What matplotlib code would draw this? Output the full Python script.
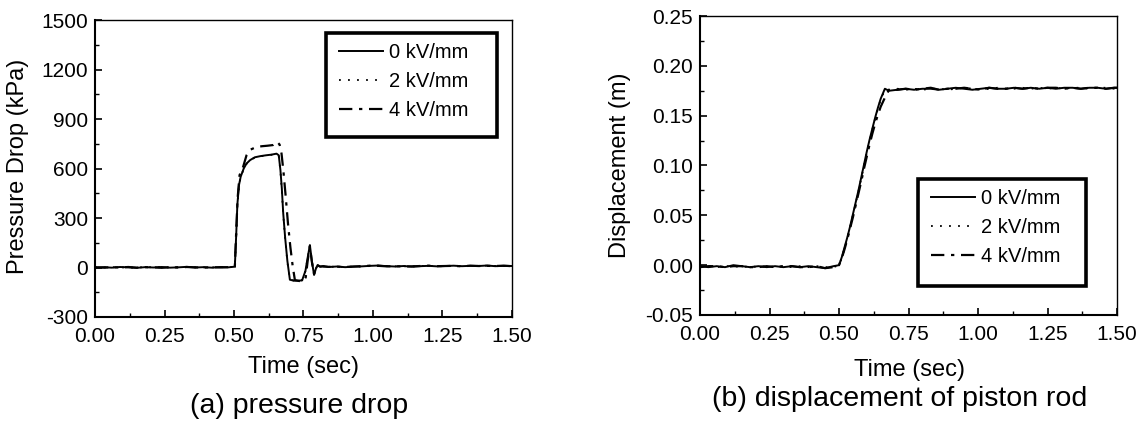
"""
Pressure drop and piston-rod displacement for 0, 2 and 4 kV/mm.
"""

import matplotlib

matplotlib.use("Agg")
import matplotlib.pyplot as plt
from matplotlib.patches import Rectangle
from matplotlib.ticker import MultipleLocator

plt.rcParams["font.family"] = ["Liberation Sans", "DejaVu Sans"]
plt.rcParams["axes.unicode_minus"] = False

# ---- data ----
labels = ["0 kV/mm", "2 kV/mm", "4 kV/mm"]

# (a) pressure drop, kPa
t_p0 = [0.00, 0.03, 0.06, 0.09, 0.12, 0.15, 0.18, 0.21, 0.24, 0.27, 0.30, 0.33, 0.36, 0.39, 0.42, 0.45, 0.48,
        0.503, 0.508, 0.512, 0.518, 0.524, 0.535, 0.545, 0.558, 0.575, 0.595, 0.615, 0.635, 0.653,
        0.661, 0.667, 0.672, 0.677, 0.684, 0.692, 0.701,
        0.715, 0.730, 0.745, 0.757, 0.765, 0.773, 0.780, 0.788, 0.795, 0.801, 0.810, 0.82, 0.84,
        0.87, 0.90, 0.93, 0.96, 0.99, 1.02, 1.05, 1.08, 1.11, 1.14, 1.17, 1.20, 1.23, 1.26, 1.29, 1.32,
        1.35, 1.38, 1.41, 1.44, 1.47, 1.50]
p_0kv = [0, 2, -1, 3, 1, -2, 2, 0, 3, -1, 1, 4, 0, 2, -1, 3, 1,
         5, 200, 380, 500, 550, 600, 630, 651, 668, 675, 680, 684, 690,
         680, 590, 480, 330, 180, 40, -74,
         -80, -80, -78, -20, 60, 136, 40, -45, -5, 15, 5, 8, 3,
         6, 2, 5, 7, 10, 12, 8, 6, 9, 5, 8, 10, 7, 9, 11, 8, 10, 9, 12, 8, 10, 9]
p_2kv = [1, 0, 2, 1, 0, -1, 3, 1, 2, 0, 2, 3, 1, 1, 0, 2, 2,
         4, 190, 370, 495, 548, 598, 628, 650, 666, 674, 679, 683, 688,
         676, 585, 470, 325, 175, 35, -72,
         -79, -81, -77, -22, 58, 132, 38, -43, -6, 14, 6, 7, 4,
         5, 3, 6, 6, 9, 11, 9, 7, 8, 6, 9, 9, 8, 8, 10, 9, 9, 10, 11, 9, 9, 10]

t_p4 = [0.00, 0.03, 0.06, 0.09, 0.12, 0.15, 0.18, 0.21, 0.24, 0.27, 0.30, 0.33, 0.36, 0.39, 0.42, 0.45, 0.48,
        0.503, 0.508, 0.513, 0.520, 0.533, 0.545, 0.560, 0.580, 0.600, 0.620, 0.640, 0.655,
        0.664, 0.671, 0.678, 0.686, 0.694, 0.703, 0.711, 0.719,
        0.735, 0.750, 0.758, 0.765, 0.773, 0.780, 0.788, 0.795, 0.801, 0.810, 0.82, 0.84,
        0.87, 0.90, 0.93, 0.96, 0.99, 1.02, 1.05, 1.08, 1.11, 1.14, 1.17, 1.20, 1.23, 1.26, 1.29, 1.32,
        1.35, 1.38, 1.41, 1.44, 1.47, 1.50]
p_4kv = [1, -1, 2, 0, 3, -1, 2, 1, -2, 2, 0, 3, 1, -1, 2, 0, 2,
         5, 220, 420, 560, 611, 680, 715, 730, 735, 738, 742, 762,
         745, 690, 580, 430, 270, 120, 10, -76,
         -82, -80, -60, 40, 130, 35, -40, -8, 12, 6, 7, 4,
         5, 3, 6, 8, 11, 10, 7, 8, 6, 7, 9, 11, 8, 9, 10, 7, 11, 9, 10, 9, 11, 8]

# (b) displacement of piston rod, m
t_d0 = [0.00, 0.03, 0.06, 0.09, 0.12, 0.15, 0.18, 0.21, 0.24, 0.27, 0.30, 0.33, 0.36, 0.39, 0.42, 0.45, 0.48, 0.50,
        0.51, 0.52, 0.53, 0.54, 0.55, 0.56, 0.57, 0.58, 0.59, 0.60, 0.61, 0.62, 0.63, 0.64, 0.65, 0.665,
        0.68, 0.71, 0.74, 0.77, 0.80, 0.83, 0.86, 0.89, 0.92, 0.95, 0.98, 1.01, 1.04, 1.07, 1.10, 1.13,
        1.16, 1.19, 1.22, 1.25, 1.28, 1.31, 1.34, 1.37, 1.40, 1.43, 1.46, 1.49, 1.50]
d_0kv = [-0.001, -0.002, -0.001, -0.002, 0.000, -0.001, -0.002, -0.001, -0.002, -0.001, -0.002, -0.001,
         -0.002, -0.001, -0.002, -0.003, -0.001, 0.000,
         0.008, 0.018, 0.028, 0.039, 0.051, 0.063, 0.075, 0.088, 0.101, 0.114, 0.126, 0.137, 0.148, 0.158,
         0.167, 0.177,
         0.175, 0.176, 0.177, 0.176, 0.177, 0.177, 0.176, 0.177, 0.178, 0.177, 0.176, 0.177, 0.178, 0.177,
         0.177, 0.178, 0.177, 0.178, 0.177, 0.178, 0.177, 0.178, 0.178, 0.177, 0.178, 0.178, 0.177, 0.178,
         0.178]
d_2kv = [-0.002, -0.001, -0.002, -0.001, -0.001, -0.002, -0.001, -0.002, -0.001, -0.002, -0.001, -0.002,
         -0.001, -0.002, -0.001, -0.002, -0.002, 0.000,
         0.007, 0.017, 0.027, 0.038, 0.050, 0.062, 0.074, 0.087, 0.100, 0.113, 0.125, 0.136, 0.147, 0.157,
         0.166, 0.176,
         0.176, 0.177, 0.176, 0.177, 0.176, 0.177, 0.177, 0.176, 0.177, 0.178, 0.177, 0.176, 0.177, 0.178,
         0.177, 0.177, 0.178, 0.177, 0.178, 0.177, 0.178, 0.177, 0.178, 0.178, 0.177, 0.178, 0.178, 0.177,
         0.178]

t_d4 = [0.00, 0.03, 0.06, 0.09, 0.12, 0.15, 0.18, 0.21, 0.24, 0.27, 0.30, 0.33, 0.36, 0.39, 0.42, 0.45, 0.48, 0.50,
        0.51, 0.52, 0.53, 0.54, 0.55, 0.56, 0.57, 0.58, 0.59, 0.60, 0.61, 0.62, 0.63, 0.64, 0.65, 0.665, 0.68,
        0.71, 0.74, 0.77, 0.80, 0.83, 0.86, 0.89, 0.92, 0.95, 0.98, 1.01, 1.04, 1.07, 1.10, 1.13,
        1.16, 1.19, 1.22, 1.25, 1.28, 1.31, 1.34, 1.37, 1.40, 1.43, 1.46, 1.49, 1.50]
d_4kv = [-0.002, -0.001, -0.001, -0.002, -0.001, -0.001, -0.002, -0.002, -0.001, -0.002, -0.001, -0.001,
         -0.002, -0.002, -0.001, -0.003, -0.002, 0.000,
         0.007, 0.016, 0.026, 0.037, 0.048, 0.060, 0.072, 0.084, 0.097, 0.109, 0.121, 0.132, 0.142, 0.151,
         0.159, 0.168, 0.176,
         0.176, 0.177, 0.176, 0.177, 0.178, 0.176, 0.177, 0.177, 0.178, 0.177, 0.176, 0.178, 0.177, 0.177,
         0.178, 0.177, 0.178, 0.177, 0.178, 0.178, 0.177, 0.178, 0.177, 0.178, 0.178, 0.177, 0.178, 0.178]

W, H = 1143, 423
fig = plt.figure(figsize=(W / 100, H / 100), dpi=100)


def px(x, y):
    """pixel position (from top-left) -> figure fraction"""
    return x / W, 1 - y / H


styles = [
    dict(color="black", lw=1.4, ls="-"),
    dict(color="black", lw=1.3, ls=(0, (1, 4))),
    dict(color="black", lw=1.6, ls=(0, (6, 3, 1.5, 3))),
]


def style_axes(ax, ymajor, yminor):
    ax.xaxis.set_major_locator(MultipleLocator(0.25))
    ax.xaxis.set_minor_locator(MultipleLocator(0.125))
    ax.yaxis.set_major_locator(MultipleLocator(ymajor))
    ax.yaxis.set_minor_locator(MultipleLocator(yminor))
    ax.tick_params(which="both", direction="in", top=False, right=False, labelsize=15)
    ax.tick_params(axis="x", pad=7.5)
    ax.tick_params(axis="y", pad=5)
    ax.tick_params(which="major", length=5, width=1.2)
    ax.tick_params(which="minor", length=3, width=1.0)
    for side in ("left", "bottom"):
        ax.spines[side].set_linewidth(1.5)
    for side in ("top", "right"):
        ax.spines[side].set_linewidth(1.0)


def draw_legend(ax, box):
    x0, y0, x1, y1 = box
    handles = ax.get_lines()
    leg = ax.legend(handles, labels, loc="upper left", bbox_to_anchor=px(x0 + 13, y0 + 10),
                    bbox_transform=fig.transFigure, frameon=False, fontsize=14.5,
                    handlelength=2.2, handletextpad=0.3, labelspacing=0.5, borderpad=0, borderaxespad=0)
    fx0, fy0 = px(x0, y1)
    fx1, fy1 = px(x1, y0)
    fig.patches.append(Rectangle((fx0, fy0), fx1 - fx0, fy1 - fy0, transform=fig.transFigure,
                                 fill=False, lw=2.6, edgecolor="black", zorder=5))
    return leg


# (a) pressure drop
ax1 = fig.add_axes([95 / W, 1 - 317 / H, 417 / W, 297 / H])
ax1.plot(t_p0, p_0kv, **styles[0])
ax1.plot(t_p0, p_2kv, **styles[1])
ax1.plot(t_p4, p_4kv, **styles[2])
ax1.set_xlim(0, 1.5)
ax1.set_ylim(-300, 1500)
style_axes(ax1, 300, 150)
ax1.xaxis.set_major_formatter(lambda v, pos: f"{v:.2f}")
draw_legend(ax1, (326, 33, 497, 137))

# (b) displacement
ax2 = fig.add_axes([700 / W, 1 - 315 / H, 417 / W, 299 / H])
ax2.plot(t_d0, d_0kv, **styles[0])
ax2.plot(t_d0, d_2kv, **styles[1])
ax2.plot(t_d4, d_4kv, **styles[2])
ax2.set_xlim(0, 1.5)
ax2.set_ylim(-0.05, 0.25)
style_axes(ax2, 0.05, 0.025)
ax2.xaxis.set_major_formatter(lambda v, pos: f"{v:.2f}")
ax2.yaxis.set_major_formatter(lambda v, pos: f"{v:.2f}")
draw_legend(ax2, (918, 179, 1086, 286))

# axis titles and captions placed as in the scan
fig.text(*px(304, 367), "Time (sec)", ha="center", va="center", fontsize=17)
fig.text(*px(299, 406), "(a) pressure drop", ha="center", va="center", fontsize=20.5)
fig.text(*px(18, 166), "Pressure Drop (kPa)", ha="center", va="center", rotation=90, fontsize=17)

fig.text(*px(909, 370), "Time (sec)", ha="center", va="center", fontsize=17)
fig.text(*px(900, 399), "(b) displacement of piston rod", ha="center", va="center", fontsize=20.5)
fig.text(*px(620, 165), "Displacement (m)", ha="center", va="center", rotation=90, fontsize=17)

fig.savefig("out.png", dpi=100)
